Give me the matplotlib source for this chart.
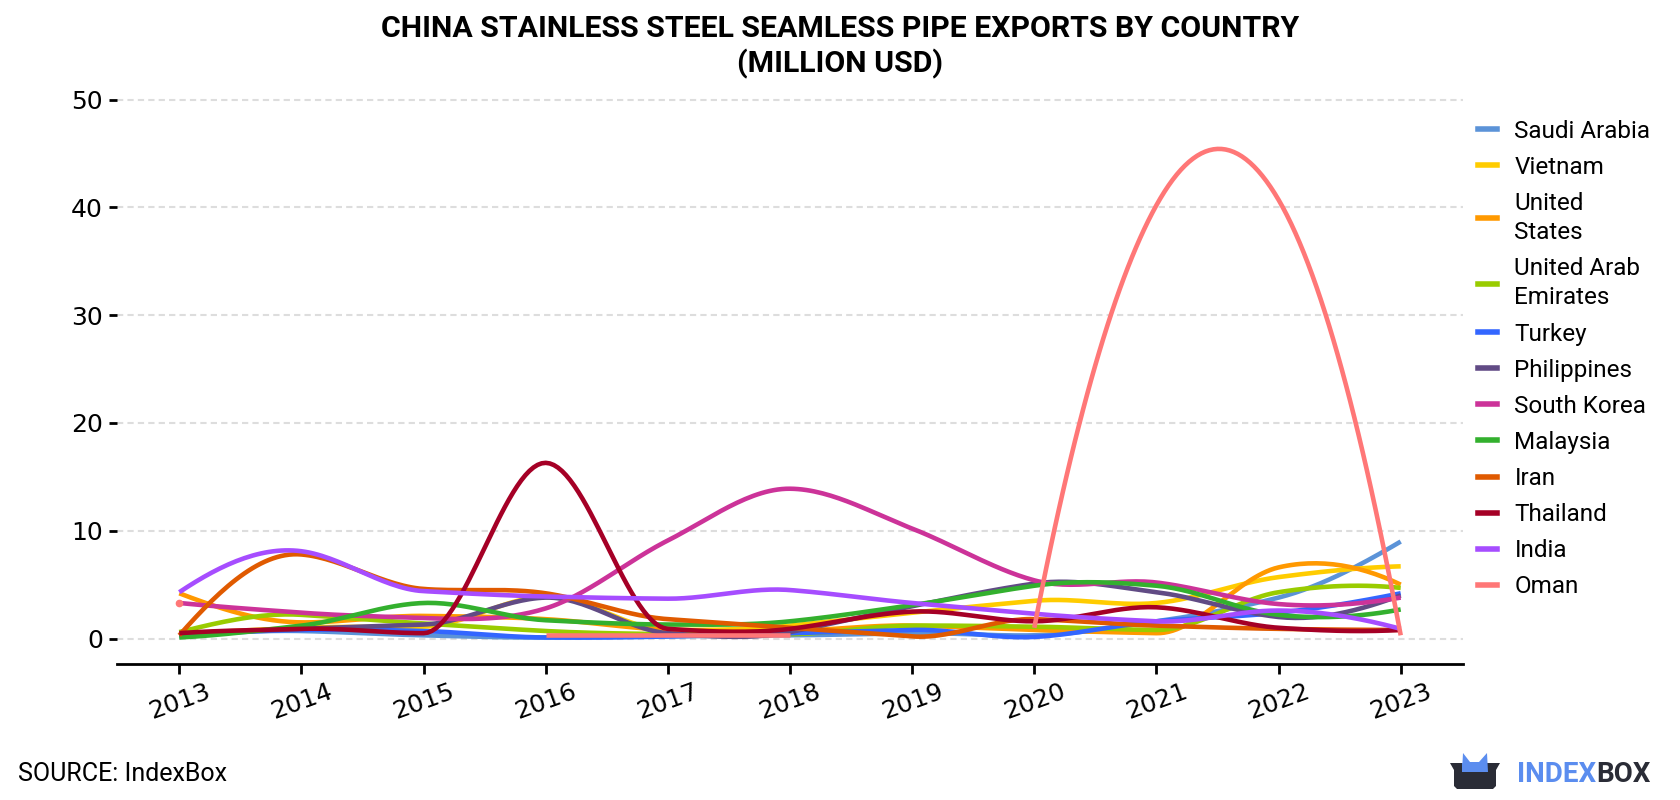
import numpy as np
import matplotlib
matplotlib.use("Agg")
import matplotlib.pyplot as plt
from matplotlib.lines import Line2D
from matplotlib.patches import Polygon
import textwrap

nan = float("nan")

years = [2013, 2014, 2015, 2016, 2017, 2018, 2019, 2020, 2021, 2022, 2023]

saudi_arabia = [0.2, 0.7, 0.3, 0.1, 0.2, 0.3, 0.5, 0.3, 1.6, 3.8, 9.0]
vietnam = [0.4, 1.0, 1.1, 3.9, 0.8, 1.2, 2.4, 3.5, 3.3, 5.7, 6.7]
united_states = [4.2, 1.5, 2.1, 1.8, 0.8, 0.7, 1.2, 0.8, 0.5, 6.6, 5.0]
united_arab_emirates = [0.6, 2.2, 1.4, 0.7, 0.4, 0.4, 1.2, 1.1, 0.8, 4.3, 4.7]
turkey = [0.3, 0.8, 0.7, 0.1, 0.2, 0.5, 0.8, 0.15, 1.6, 2.4, 4.2]
philippines = [0.4, 0.9, 1.3, 3.8, 0.5, 0.6, 3.0, 5.1, 4.3, 2.0, 4.0]
south_korea = [3.3, 2.4, 1.9, 2.8, 9.1, 13.9, 10.2, 5.4, 5.2, 3.2, 3.8]
malaysia = [0.1, 1.2, 3.3, 1.7, 1.3, 1.6, 3.1, 4.9, 4.9, 2.2, 2.7]
iran = [0.3, 7.8, 4.6, 4.2, 1.8, 1.0, 0.2, 1.8, 1.2, 0.9, 0.8]
thailand = [0.5, 0.9, 0.5, 16.3, 0.9, 0.9, 2.5, 1.6, 2.9, 1.0, 0.8]
india = [4.3, 8.1, 4.4, 3.9, 3.7, 4.5, 3.3, 2.3, 1.6, 2.6, 0.9]
oman = [3.3, nan, nan, 0.3, 0.3, 0.3, nan, 1.0, 40.2, 40.7, 0.3]

countries = ["Saudi Arabia", "Vietnam", "United States", "United Arab Emirates",
             "Turkey", "Philippines", "South Korea", "Malaysia", "Iran",
             "Thailand", "India", "Oman"]
series = [saudi_arabia, vietnam, united_states, united_arab_emirates, turkey,
          philippines, south_korea, malaysia, iran, thailand, india, oman]
colors = ["#5B93D8", "#FFCC00", "#FF9900", "#99CC00", "#3366FF", "#614B85",
          "#CC3399", "#33B02E", "#E05A00", "#A50026", "#A64DFF", "#FF7777"]

title_line1 = "CHINA STAINLESS STEEL SEAMLESS PIPE EXPORTS BY COUNTRY"
title_line2 = "(MILLION USD)"
source_text = "SOURCE: IndexBox"
y_ticks = [0, 10, 20, 30, 40, 50]


def akima_segment(x, y, n=30):
    x = np.asarray(x, float)
    y = np.asarray(y, float)
    if len(x) == 2:
        return x, y
    m = np.diff(y) / np.diff(x)
    mm = np.concatenate([[3 * m[0] - 2 * m[1], 2 * m[0] - m[1]], m,
                         [2 * m[-1] - m[-2], 3 * m[-1] - 2 * m[-2]]])
    dm = np.abs(np.diff(mm))
    f1 = dm[2:]
    f2 = dm[:-2]
    f12 = f1 + f2
    safe = np.where(f12 > 1e-9, f12, 1.0)
    t = np.where(f12 > 1e-9, (f1 * mm[1:-2] + f2 * mm[2:-1]) / safe,
                 0.5 * (mm[1:-2] + mm[2:-1]))
    xs, ys = [], []
    for i in range(len(x) - 1):
        h = x[i + 1] - x[i]
        s = np.linspace(0, 1, n, endpoint=(i == len(x) - 2))
        h00 = 2 * s**3 - 3 * s**2 + 1
        h10 = s**3 - 2 * s**2 + s
        h01 = -2 * s**3 + 3 * s**2
        h11 = s**3 - s**2
        xs.append(x[i] + s * h)
        ys.append(h00 * y[i] + h10 * h * t[i] + h01 * y[i + 1] + h11 * h * t[i + 1])
    return np.concatenate(xs), np.concatenate(ys)


def segments(xv, yv):
    segs, cx, cy = [], [], []
    for a, b in zip(xv, yv):
        if np.isnan(b):
            if cx:
                segs.append((cx, cy))
            cx, cy = [], []
        else:
            cx.append(a)
            cy.append(b)
    if cx:
        segs.append((cx, cy))
    return segs


W, H = 1680, 800
fig = plt.figure(figsize=(W / 100, H / 100), dpi=100)
ax = fig.add_axes([117 / W, 1 - 664 / H, (1463 - 117) / W, (664 - 78) / H])

for name, vals, col in zip(countries, series, colors):
    for sx, sy in segments(years, vals):
        if len(sx) == 1:
            ax.plot(sx, sy, marker="o", ms=4.5, color=col, lw=0)
        else:
            px, py = akima_segment(sx, sy)
            ax.plot(px, py, color=col, lw=3.3, solid_capstyle="butt",
                    solid_joinstyle="round")

ax.set_xlim(2012.49, 2023.51)
ax.set_ylim(-2.36, 52)
ax.set_yticks(y_ticks)
ax.set_xticks(years)
ax.set_xticklabels([str(y) for y in years], rotation=20, ha="center")
ax.grid(axis="y", color="#dddddd", linestyle=(0, (3, 2)), lw=1.5)
ax.grid(axis="x", visible=False)
ax.set_axisbelow(True)
for s in ["left", "top", "right"]:
    ax.spines[s].set_visible(False)
ax.spines["bottom"].set_linewidth(2)
ax.tick_params(axis="y", length=6, width=2, labelsize=18, pad=4, colors="black")
ax.tick_params(axis="x", length=7, width=2, labelsize=18, pad=4, colors="black")

handles = [Line2D([0], [0], color=c, lw=4) for c in colors]
labels = [textwrap.fill(c, 12) for c in countries]
leg = fig.legend(handles, labels, loc="upper left",
                 bbox_to_anchor=(1478 / W, 1 - 119.5 / H), bbox_transform=fig.transFigure,
                 frameon=False, borderpad=0, borderaxespad=0, handlelength=0.78,
                 handletextpad=0.72, labelspacing=0.54,
                 prop={"family": "Roboto", "size": 17.5})
for t in leg.get_texts():
    t.set_linespacing(1.35)

fig.text(840 / W, 1 - 29 / H, title_line1, ha="center", va="center",
         family="Roboto", weight="bold", size=21.8)
fig.text(840 / W, 1 - 64 / H, title_line2, ha="center", va="center",
         family="Roboto", weight="bold", size=21.8)
fig.text(18 / W, 1 - 774 / H, source_text, ha="left", va="center",
         family="Roboto", size=18)

# IndexBox logo
def fx(px):
    return px / W

def fy(py):
    return 1 - py / H

crown = Polygon([(fx(1462), fy(772)), (fx(1463), fy(753)), (fx(1470), fy(762)),
                 (fx(1479), fy(762)), (fx(1487), fy(753)), (fx(1488), fy(772))],
                closed=True, transform=fig.transFigure, color="#5B8DEF", lw=0)
box = Polygon([(fx(1450), fy(763)), (fx(1500), fy(763)), (fx(1496), fy(770)),
               (fx(1496), fy(786)), (fx(1493), fy(789)), (fx(1457), fy(789)),
               (fx(1454), fy(786)), (fx(1454), fy(770))],
              closed=True, transform=fig.transFigure, color="#2A2C36", lw=0)
box2 = Polygon([(fx(1462), fy(763)), (fx(1475), fy(763)), (fx(1475), fy(772)),
                (fx(1462), fy(772))], closed=True, transform=fig.transFigure,
               color="#5B8DEF", lw=0)
fig.patches.extend([box, crown, box2])
t1 = fig.text(1517 / W, 1 - 775 / H, "INDEX", ha="left", va="center",
              family="Roboto", weight="bold", size=20, color="#5B8DEF")
fig.canvas.draw()
bb = t1.get_window_extent()
fig.text(bb.x1 / W, 1 - 775 / H, "BOX", ha="left", va="center",
         family="Roboto", weight="bold", size=20, color="#2A2C36")

fig.savefig("out.png", dpi=100)
